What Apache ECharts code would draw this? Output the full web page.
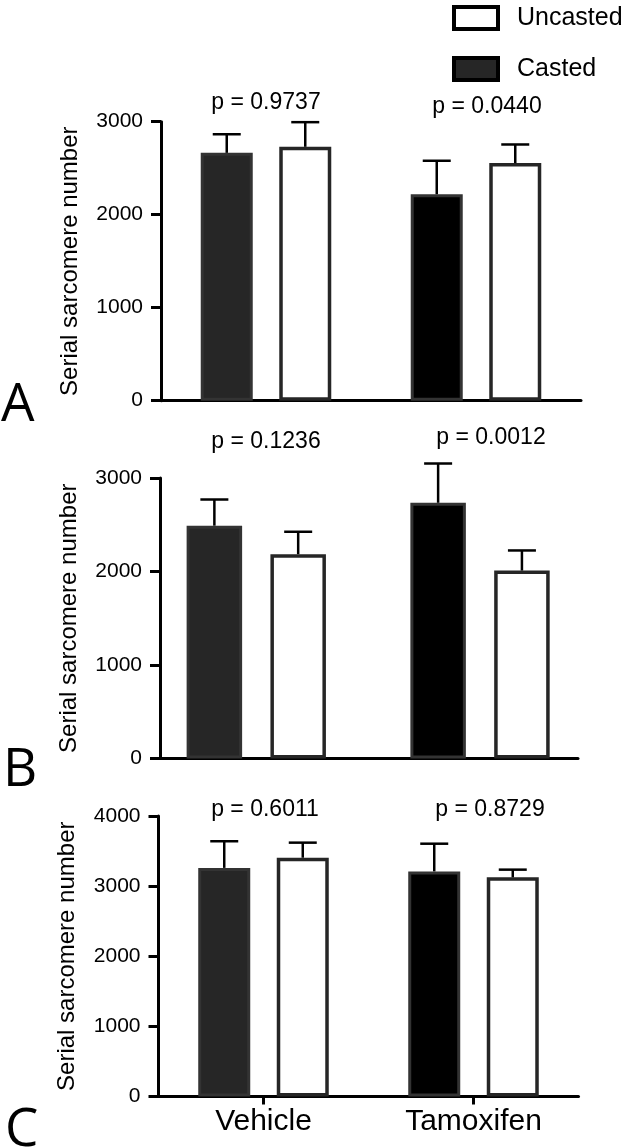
<!DOCTYPE html>
<html><head><meta charset="utf-8">
<script src="https://cdn.jsdelivr.net/npm/echarts@6/dist/echarts.min.js"></script>
<style>html,body{margin:0;padding:0;background:#fff}#c{width:628px;height:1147px}</style>
</head><body><div id="c"></div>
<script>
// ---------- DATA ----------
const categories = ['Vehicle', 'Tamoxifen'];
const legendNames = ['Uncasted', 'Casted'];
const yTitle = 'Serial sarcomere number';

const aCasted = [2665, 2220];
const aCastedErr = [200, 360];
const aUncasted = [2730, 2555];
const aUncastedErr = [265, 200];
const aTicks = [0, 1000, 2000, 3000];
const aP = ['p = 0.9737', 'p = 0.0440'];

const bCasted = [2490, 2735];
const bCastedErr = [280, 420];
const bUncasted = [2185, 2010];
const bUncastedErr = [240, 215];
const bTicks = [0, 1000, 2000, 3000];
const bP = ['p = 0.1236', 'p = 0.0012'];

const cCasted = [3260, 3210];
const cCastedErr = [380, 395];
const cUncasted = [3405, 3125];
const cUncastedErr = [215, 110];
const cTicks = [0, 1000, 2000, 3000, 4000];
const cP = ['p = 0.6011', 'p = 0.8729'];

const panelLetters = ['A', 'B', 'C'];

// ---------- STYLE / LAYOUT ----------
const FONT = "'Liberation Sans', Arial, Helvetica, sans-serif";
const castedFill = ['#262626', '#000000'];
const panelsLayout = [
  { grid: {left: 161, right: 47, top: 121.7, bottom: 746.3}, axisGrid: null, barWidth: 52,
    pPos: [[266, 103], [487, 107]], letterPos: [1, 406], showX: false },
  { grid: {left: 144.4, right: 36.1, top: 478, bottom: 388.5}, axisGrid: {left: 160, right: 50, top: 478, bottom: 388.5}, barWidth: 55.5,
    pPos: [[266, 442], [491, 438]], letterPos: [3, 771], showX: false },
  { grid: {left: 158.5, right: 49.5, top: 816, bottom: 50.5}, axisGrid: null, barWidth: 52,
    pPos: [[265, 810], [490, 810]], letterPos: [5, 1131], showX: true }
];
const panelData = [
  {casted: aCasted, castedErr: aCastedErr, uncasted: aUncasted, uncastedErr: aUncastedErr, ticks: aTicks, p: aP},
  {casted: bCasted, castedErr: bCastedErr, uncasted: bUncasted, uncastedErr: bUncastedErr, ticks: bTicks, p: bP},
  {casted: cCasted, castedErr: cCastedErr, uncasted: cUncasted, uncastedErr: cUncastedErr, ticks: cTicks, p: cP}
];
const BAR_GAP = 0.51;
const CAP_HALF = 14;

function yAxisFor(ticks, gridIndex, show) {
  return {
    type: 'value', gridIndex: gridIndex, show: show,
    min: ticks[0], max: ticks[ticks.length - 1], interval: ticks[1] - ticks[0],
    axisLine: {show: true, lineStyle: {color: '#000', width: 3}},
    axisTick: {show: true, length: 10, lineStyle: {color: '#000', width: 3}},
    axisLabel: {color: '#000', fontSize: 21, fontFamily: FONT, margin: 18,
      formatter: function (v) { return String(v); }},
    splitLine: {show: false},
    name: yTitle, nameLocation: 'middle', nameRotate: 90, nameGap: 79,
    nameTextStyle: {color: '#000', fontSize: 24, fontFamily: FONT}
  };
}

function errRender(offset) {
  return function (params, api) {
    const ci = api.value(0), lo = api.value(1), hi = api.value(2), side = api.value(3);
    const p0 = api.coord([ci, lo]);
    const p1 = api.coord([ci, hi]);
    const x = p0[0] + side * offset;
    return {
      type: 'group',
      children: [
        {type: 'line', shape: {x1: x, y1: p0[1], x2: x, y2: p1[1]}, style: {stroke: '#000', lineWidth: 2.5}},
        {type: 'line', shape: {x1: x - CAP_HALF, y1: p1[1], x2: x + CAP_HALF, y2: p1[1]}, style: {stroke: '#000', lineWidth: 2.5}}
      ]
    };
  };
}

const grids = [], xAxes = [], yAxes = [], series = [], graphics = [];
panelsLayout.forEach(function (L, k) {
  const D = panelData[k];
  const gi = grids.length;
  grids.push(L.grid);
  const xi = xAxes.length;
  xAxes.push({
    type: 'category', gridIndex: gi, data: categories, boundaryGap: true,
    axisLine: {show: !L.axisGrid, onZero: false, lineStyle: {color: '#000', width: 3}},
    axisTick: {show: L.showX, alignWithLabel: true, length: 8, lineStyle: {color: '#000', width: 3}},
    axisLabel: {show: L.showX, color: '#000', fontSize: 30, fontFamily: FONT, margin: 10},
    splitLine: {show: false}
  });
  const yi = yAxes.length;
  yAxes.push(yAxisFor(D.ticks, gi, !L.axisGrid));
  if (L.axisGrid) {
    const gi2 = grids.length;
    grids.push(L.axisGrid);
    xAxes.push({type: 'value', gridIndex: gi2, min: 0, max: 1,
      axisLine: {show: true, onZero: false, lineStyle: {color: '#000', width: 3}},
      axisTick: {show: false}, axisLabel: {show: false}, splitLine: {show: false}});
    yAxes.push(yAxisFor(D.ticks, gi2, true));
  }
  series.push({
    name: 'Casted', type: 'bar', xAxisIndex: xi, yAxisIndex: yi,
    barWidth: L.barWidth, barGap: (BAR_GAP * 100) + '%',
    itemStyle: {borderColor: '#333', borderWidth: 3},
    data: D.casted.map(function (v, i) { return {value: v, itemStyle: {color: castedFill[i]}}; })
  });
  series.push({
    name: 'Uncasted', type: 'bar', xAxisIndex: xi, yAxisIndex: yi,
    barWidth: L.barWidth, barGap: (BAR_GAP * 100) + '%',
    itemStyle: {color: '#fff', borderColor: '#262626', borderWidth: 3.5},
    data: D.uncasted.slice()
  });
  const off = L.barWidth * (1 + BAR_GAP) / 2;
  const errData = [];
  D.casted.forEach(function (v, i) { errData.push([i, v, v + D.castedErr[i], -1]); });
  D.uncasted.forEach(function (v, i) { errData.push([i, v, v + D.uncastedErr[i], 1]); });
  series.push({
    name: 'err' + k, type: 'custom', xAxisIndex: xi, yAxisIndex: yi, z: 3, clip: false,
    encode: {x: 0, y: [1, 2]}, renderItem: errRender(off), data: errData, silent: true
  });
  D.p.forEach(function (t, i) {
    graphics.push({type: 'text', x: L.pPos[i][0], y: L.pPos[i][1],
      style: {text: t, fill: '#000', font: '23px ' + FONT, textAlign: 'center', textVerticalAlign: 'middle'}});
  });
  graphics.push({type: 'text', x: L.letterPos[0], y: L.letterPos[1],
    style: {text: panelLetters[k], fill: '#000', font: '53px "Open Sans", "Noto Sans", sans-serif', textAlign: 'left', textVerticalAlign: 'middle'}});
});

const chart = echarts.init(document.getElementById('c'), null, {renderer: 'canvas'});
chart.setOption({
  animation: false,
  backgroundColor: '#fff',
  grid: grids, xAxis: xAxes, yAxis: yAxes, series: series, graphic: graphics,
  legend: {
    orient: 'vertical', left: 452, top: 5, padding: 0, itemWidth: 44, itemHeight: 22, itemGap: 25,
    icon: 'rect', selectedMode: false,
    textStyle: {color: '#000', fontSize: 25, fontFamily: FONT, padding: [0, 0, 0, 14], lineHeight: 22},
    data: [
      {name: legendNames[0], itemStyle: {color: '#fff', borderColor: '#000', borderWidth: 4}},
      {name: legendNames[1], itemStyle: {color: '#262626', borderColor: '#000', borderWidth: 4}}
    ]
  }
});
</script></body></html>
